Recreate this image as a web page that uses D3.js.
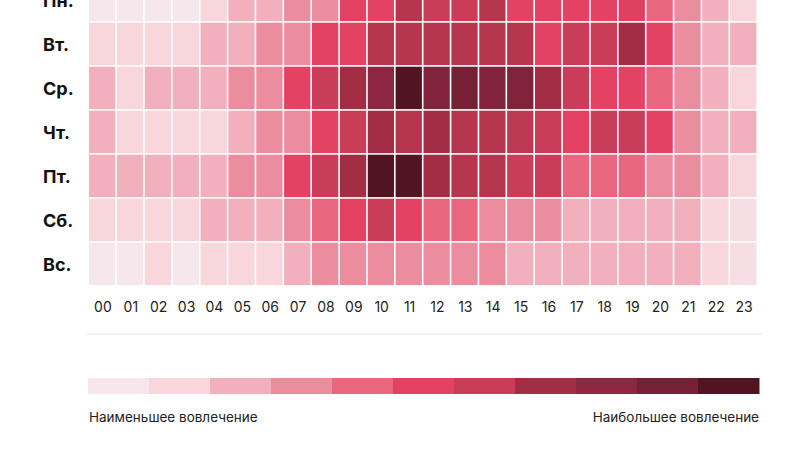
<!DOCTYPE html>
<html>
<head>
<meta charset="utf-8">
<script src="https://cdn.jsdelivr.net/npm/d3@7"></script>
<style>
  body { margin:0; background:#fff; }
  svg { display:block; font-family: Inter, "Noto Sans", sans-serif; }
</style>
</head>
<body>
<div id="chart"></div>
<script>
// engagement heatmap: days x hours, values are levels on the 0..10 legend scale
const days = ["Пн.", "Вт.", "Ср.", "Чт.", "Пт.", "Сб.", "Вс."];
const hours = ["00","01","02","03","04","05","06","07","08","09","10","11",
               "12","13","14","15","16","17","18","19","20","21","22","23"];

const mon = [0, 0, 0, 0, 1, 2, 2, 3, 3, 5, 5, 6.5, 6, 6, 6.5, 5, 5, 5, 5, 5.2, 4, 3, 2, 1];
const tue = [1, 1, 1, 1, 2, 2, 3, 3, 5, 5, 6.5, 6.5, 6.5, 6.5, 6.5, 6.5, 5, 6, 6, 7, 5, 3, 2, 2];
const wed = [2, 1, 2, 2, 2, 3, 3, 5, 6, 7, 8, 10, 8.5, 9, 8.5, 8.5, 7, 6, 5, 5, 4, 3, 2, 1];
const thu = [2, 1, 1, 1, 1, 2, 3, 3, 5, 6, 7, 6.5, 7, 6.5, 6.5, 6.3, 6, 5, 6, 6, 5, 3, 2, 2];
const fri = [2, 2, 2, 2, 2, 3, 3, 5, 6, 7, 10, 10, 7, 6.5, 6.5, 6, 6, 4, 4, 4, 3, 3, 2, 1];
const sat = [1, 1, 1, 1, 2, 2, 2, 3, 4, 5, 6, 5, 4, 4, 3, 3, 3, 2, 2, 2, 2, 2, 1, 0.5];
const sun = [0, 0, 1, 0, 1, 1, 1, 2, 3, 3, 3, 3, 3, 3, 3, 2, 2, 2, 2, 2, 2, 2, 1, 0.5];

const legendColors = ["#f5e7eb", "#f9d5dc", "#f2b0bd", "#ec8c9f", "#e8677f", "#e34262",
                      "#c93d58", "#a22d45", "#8d2640", "#752034", "#521423"];
const legendLow = "Наименьшее вовлечение";
const legendHigh = "Наибольшее вовлечение";

const rows = [mon, tue, wed, thu, fri, sat, sun];
const cells = [];
rows.forEach((r, i) => r.forEach((v, j) => cells.push({ day: days[i], hour: hours[j], v })));

const width = 800, height = 450;

const svg = d3.select("#chart").append("svg")
  .attr("width", width).attr("height", height)
  .attr("viewBox", `0 0 ${width} ${height}`);

// the top row runs past the picture's top edge, as in the source
const x = d3.scaleBand().domain(hours).range([89, 758]);
const y = d3.scaleBand().domain(days).range([-21.3, 286.7]);

const color = d3.scaleLinear()
  .domain(d3.range(legendColors.length))
  .range(legendColors)
  .interpolate(d3.interpolateRgb)
  .clamp(true);

// cells
svg.append("g")
  .selectAll("rect")
  .data(cells)
  .join("rect")
  .attr("x", d => x(d.hour))
  .attr("y", d => y(d.day))
  .attr("width", x.bandwidth() - 1.6)
  .attr("height", y.bandwidth() - 1.6)
  .attr("fill", d => color(d.v));

// day labels (left aligned)
svg.append("g")
  .selectAll("text")
  .data(days)
  .join("text")
  .attr("x", 43)
  .attr("y", d => y(d) + y.bandwidth() / 2)
  .attr("dy", "0.36em")
  .attr("font-size", 18)
  .attr("font-weight", 700)
  .attr("fill", "#111")
  .text(d => d);

// hour axis
const xAxis = svg.append("g")
  .attr("transform", "translate(0,299)")
  .call(d3.axisBottom(x).tickSize(0));
xAxis.select(".domain").remove();
xAxis.selectAll("text")
  .attr("font-size", 14)
  .attr("font-family", "Inter, 'Noto Sans', sans-serif")
  .attr("fill", "#222");

// separator
svg.append("line")
  .attr("x1", 87).attr("x2", 762)
  .attr("y1", 334).attr("y2", 334)
  .attr("stroke", "#eeeeee")
  .attr("stroke-width", 1.5);

// legend
const lx = d3.scaleBand().domain(d3.range(legendColors.length)).range([88, 759]);
svg.append("g")
  .selectAll("rect")
  .data(legendColors)
  .join("rect")
  .attr("x", (d, i) => lx(i))
  .attr("y", 378)
  .attr("width", lx.bandwidth() + 0.5)
  .attr("height", 16)
  .attr("fill", d => d);

svg.append("text")
  .attr("x", 89).attr("y", 422)
  .attr("font-size", 13.5)
  .attr("fill", "#222")
  .text(legendLow);

svg.append("text")
  .attr("x", 759).attr("y", 422)
  .attr("text-anchor", "end")
  .attr("font-size", 13.5)
  .attr("fill", "#222")
  .text(legendHigh);
</script>
</body>
</html>
